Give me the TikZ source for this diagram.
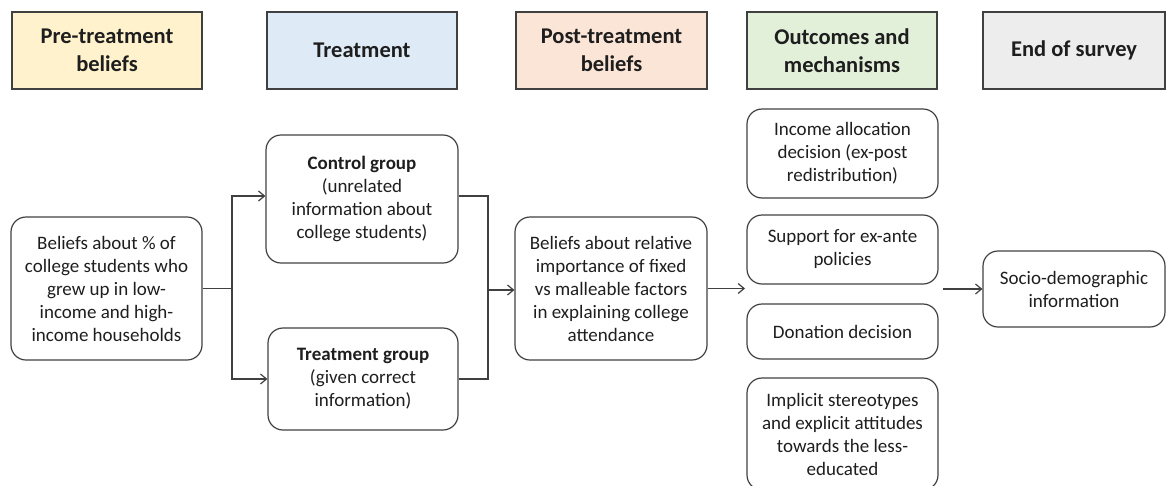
\documentclass[tikz,border=0pt]{standalone}
\usepackage{fontspec}
\setmainfont{Carlito}
\usetikzlibrary{arrows.meta}
\definecolor{edge}{HTML}{404040}
\definecolor{txt}{HTML}{1E1E1E}
\definecolor{hyellow}{HTML}{FFF2CC}
\definecolor{hblue}{HTML}{DEEBF7}
\definecolor{hpeach}{HTML}{FBE5D6}
\definecolor{hgreen}{HTML}{E2F0D9}
\definecolor{hgrey}{HTML}{EDEDED}
\begin{document}
\begin{tikzpicture}[x=1pt,y=-1pt,
  hdr/.style={draw=edge, line width=1.2pt, minimum height=77pt, inner sep=0pt,
    font=\fontsize{22.5}{27.5}\selectfont\bfseries, align=center, text=txt},
  rbox/.style={draw=edge, line width=1.2pt, rounded corners=15pt, inner sep=0pt,
    font=\fontsize{19}{23}\selectfont, align=center, text=txt},
  conn/.style={draw=edge, line width=1.2pt},
  arr/.style={conn, -{Straight Barb[length=6pt,width=10pt]}}]
\clip (0,0) rectangle (1166,485);
% headers
\node[hdr, fill=hyellow, minimum width=190pt] (h1) at (107,50.5) {Pre-treatment\\beliefs};
\node[hdr, fill=hblue, minimum width=190pt] (h2) at (362,50.5) {Treatment};
\node[hdr, fill=hpeach, minimum width=191pt] (h3) at (611.5,50.5) {Post-treatment\\beliefs};
\node[hdr, fill=hgreen, minimum width=190pt] (h4) at (842,50.5) {Outcomes and\\mechanisms};
\node[hdr, fill=hgrey, minimum width=182pt] (h5) at (1074,50.5) {End of survey};
% boxes
\node[rbox, minimum width=191pt, minimum height=143pt] (L) at (106.5,288.5)
  {Beliefs about \% of\\college students who\\grew up in low-\\income and high-\\income households};
\node[rbox, minimum width=192pt, minimum height=128pt] (C) at (362,199)
  {\textbf{Control group}\\(unrelated\\information about\\college students)};
\node[rbox, minimum width=190pt, minimum height=102pt] (T) at (363,379)
  {\textbf{Treatment group}\\(given correct\\information)};
\node[rbox, minimum width=192pt, minimum height=143pt] (P) at (611,288.5)
  {Beliefs about relative\\importance of fixed\\vs malleable factors\\in explaining college\\attendance};
\node[rbox, minimum width=191pt, minimum height=89pt] (A) at (842.5,153.5)
  {Income allocation\\decision (ex-post\\redistribution)};
\node[rbox, minimum width=191pt, minimum height=69pt] (B) at (842.5,249.5)
  {Support for ex-ante\\policies};
\node[rbox, minimum width=191pt, minimum height=55pt] (D) at (842.5,331.5)
  {Donation decision};
\node[rbox, minimum width=191pt, minimum height=112pt] (E) at (842.5,434)
  {Implicit stereotypes\\and explicit attitudes\\towards the less-\\educated};
\node[rbox, minimum width=182pt, minimum height=76pt] (S) at (1074,289)
  {Socio-demographic\\information};
% connectors
\coordinate (s1) at (232,288.5);
\coordinate (m) at (488,290);
\coordinate (po) at (745,290);
\coordinate (oo) at (943,289);
\draw[conn] (L.east) -- (s1);
\draw[arr] (s1) |- ([yshift=3pt]C.west);
\draw[arr] (s1) |- (T.west);
\draw[conn] ([yshift=3pt]C.east) -| (m);
\draw[conn] (T.east) -| (m);
\draw[arr] (m) -- (m -| P.west);
\draw[arr] (P.east) -- (P.east -| po);
\draw[arr] (oo) -- (S.west);
\end{tikzpicture}
\end{document}
